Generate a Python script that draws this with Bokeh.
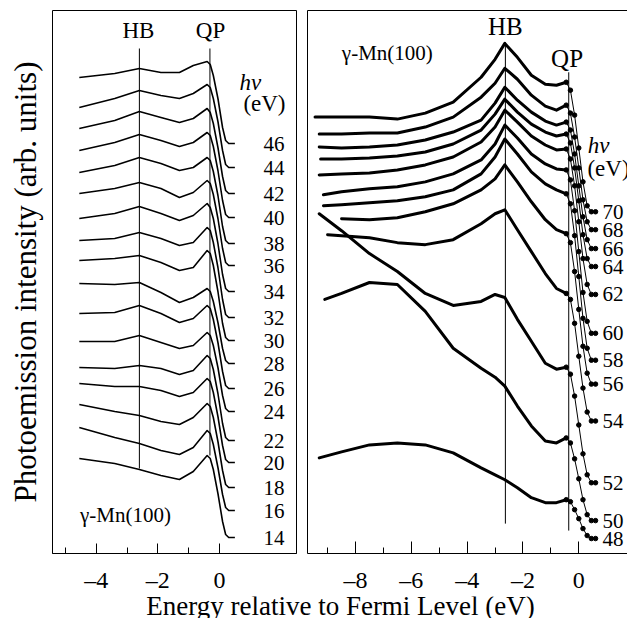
from bokeh.plotting import figure
from bokeh.models import Range1d, FixedTicker, LinearAxis, Label
from bokeh.layouts import column, row
from bokeh.embed import file_html
from bokeh.resources import INLINE
from bokeh.core.properties import value

FONT = "Liberation Serif"

# ---------------- left panel data (hv = 14..46 eV) ----------------
LEFT_HV = [46, 44, 42, 40, 38, 36, 34, 32, 30, 28, 26, 24, 22, 20, 18, 16, 14]
LEFT_E = [-4.55, -3.4, -2.6, -1.9, -1.3, -0.85, -0.4, -0.3, -0.2, -0.05, 0.1, 0.2, 0.3, 0.5]
LEFT_I = [
    [47.6, 48.0, 48.5, 48.1, 48.1, 48.8, 49.2, 48.9, 47.8, 45.5, 42.6, 41.3, 41.0, 41.0],
    [44.6, 45.5, 46.3, 45.8, 45.5, 46.0, 46.9, 46.6, 45.5, 43.2, 40.3, 38.9, 38.6, 38.6],
    [42.5, 43.3, 44.2, 43.6, 43.1, 43.5, 44.5, 44.1, 43.0, 40.6, 37.7, 36.3, 36.0, 36.0],
    [40.3, 41.1, 41.9, 41.3, 40.7, 41.1, 42.1, 41.8, 40.7, 38.3, 35.3, 33.9, 33.6, 33.6],
    [38.1, 38.8, 39.6, 39.0, 38.3, 38.6, 39.6, 39.3, 38.2, 35.8, 32.7, 31.3, 31.0, 31.0],
    [36.0, 36.5, 37.1, 36.5, 35.6, 36.1, 37.3, 37.0, 35.9, 33.5, 30.5, 29.1, 28.8, 28.8],
    [33.5, 34.0, 34.7, 34.0, 33.3, 33.8, 35.0, 34.6, 33.5, 31.0, 27.9, 26.5, 26.2, 26.2],
    [31.3, 31.5, 32.1, 31.5, 30.8, 31.1, 32.6, 32.3, 31.1, 28.6, 25.4, 23.9, 23.6, 23.6],
    [29.3, 29.5, 29.8, 29.1, 28.3, 28.6, 30.3, 30.0, 28.8, 26.2, 23.0, 21.6, 21.3, 21.3],
    [27.0, 26.9, 27.1, 26.1, 25.1, 25.6, 26.5, 26.2, 25.2, 23.1, 20.5, 19.3, 19.0, 19.0],
    [24.0, 24.1, 24.8, 24.0, 23.1, 23.5, 24.8, 24.5, 23.4, 21.1, 18.2, 16.8, 16.5, 16.5],
    [21.2, 21.2, 21.8, 21.1, 20.5, 20.8, 22.1, 21.8, 20.8, 18.6, 15.8, 14.5, 14.2, 14.2],
    [18.6, 18.5, 18.8, 18.5, 17.9, 18.3, 19.8, 19.5, 18.4, 16.0, 13.0, 11.6, 11.3, 11.3],
    [17.0, 16.7, 16.7, 16.3, 15.7, 16.1, 17.5, 17.2, 16.1, 13.7, 10.8, 9.4, 9.1, 9.1],
    [14.9, 14.2, 13.8, 13.2, 12.9, 13.6, 15.0, 14.7, 13.6, 11.2, 8.3, 6.9, 6.6, 6.6],
    [12.6, 11.6, 11.0, 10.3, 9.9, 10.6, 12.3, 12.0, 10.9, 8.6, 5.9, 4.6, 4.3, 4.3],
    [9.5, 9.0, 8.4, 7.8, 7.4, 8.2, 9.8, 9.5, 8.4, 6.0, 3.2, 1.9, 1.6, 1.6],
]
LEFT_LABEL_I = [41.0, 38.6, 36.0, 33.6, 31.0, 28.8, 26.2, 23.6, 21.3, 19.0, 16.5, 14.2, 11.3, 9.1, 6.6, 4.3, 1.6]
LEFT_MARK_E = [-2.6, -0.31]
LEFT_MARK_TOP = [50.5, 50.5]
LEFT_MARK_BOTTOM = [8.5, 9.8]

# ---------------- right panel data (hv = 48..70 eV) ----------------
RIGHT_HV = [70, 68, 66, 64, 62, 60, 58, 56, 54, 52, 50, 48]
RIGHT_START_E = [-9.45, -9.3, -9.3, -9.25, -9.3, -9.15, -9.15, -8.5, -9.0, -9.3, -9.1, -9.3]
RIGHT_START_I = [43.8, 42.1, 40.8, 39.6, 38.0, 36.0, 34.9, 33.6, 32.0, 34.1, 25.5, 9.6]
RIGHT_BODY_E = [-8.5, -7.5, -6.5, -5.5, -4.5, -3.5, -3.0, -2.65, -2.2, -1.7, -1.2, -0.8, -0.45]
RIGHT_BODY_I = [
    [43.8, 43.8, 43.6, 44.2, 45.3, 47.8, 49.6, 51.2, 49.8, 48.0, 47.1, 47.0, 47.3],
    [42.1, 42.2, 42.2, 42.8, 43.8, 45.8, 47.2, 48.7, 47.6, 46.0, 44.9, 44.5, 45.0],
    [40.7, 40.8, 41.0, 41.5, 42.3, 43.5, 45.2, 46.8, 45.5, 44.3, 43.4, 43.0, 43.3],
    [39.6, 39.7, 39.9, 40.3, 41.1, 42.5, 44.1, 45.6, 44.3, 43.1, 42.3, 41.9, 42.1],
    [38.1, 38.2, 38.5, 39.0, 39.8, 41.3, 42.8, 44.5, 43.3, 41.9, 41.0, 40.5, 40.6],
    [36.3, 36.6, 36.8, 37.3, 38.1, 39.5, 41.1, 43.0, 41.7, 40.1, 39.1, 38.6, 38.5],
    [35.0, 35.2, 35.4, 35.8, 36.5, 38.1, 39.8, 41.6, 40.1, 38.3, 37.1, 36.5, 36.1],
    [33.6, 33.5, 33.7, 34.3, 35.1, 36.5, 37.6, 39.0, 37.3, 35.3, 33.5, 32.5, 32.1],
    [31.9, 31.7, 31.2, 31.0, 31.5, 33.1, 34.1, 34.5, 32.5, 30.3, 28.1, 26.6, 26.1],
    [32.4, 30.1, 28.3, 26.1, 24.9, 25.3, 26.0, 25.7, 23.5, 21.3, 19.1, 18.5, 18.7],
    [26.1, 27.2, 27.0, 24.3, 20.6, 18.6, 17.7, 16.8, 14.8, 12.8, 11.3, 11.1, 11.6],
    [10.2, 10.9, 11.1, 10.9, 10.1, 8.6, 7.9, 7.4, 6.6, 5.6, 5.1, 5.1, 5.4],
]
RIGHT_EDGE_E = [-0.3, -0.15, 0.0, 0.15, 0.3, 0.45, 0.6]
RIGHT_EDGE_I = [
    [46.5, 44.0, 40.7, 37.3, 34.9, 34.3, 34.3],
    [44.2, 41.8, 38.7, 35.5, 33.3, 32.5, 32.5],
    [42.5, 40.1, 36.9, 33.8, 31.5, 30.6, 30.6],
    [41.2, 38.7, 35.4, 32.0, 29.6, 28.8, 28.8],
    [39.6, 36.9, 33.3, 29.6, 27.0, 26.0, 26.0],
    [37.5, 34.4, 30.3, 26.2, 23.3, 22.1, 22.1],
    [35.1, 31.9, 27.8, 23.6, 20.6, 19.4, 19.4],
    [31.2, 28.3, 24.5, 20.8, 18.1, 17.0, 17.0],
    [25.5, 23.1, 19.8, 16.6, 14.2, 13.3, 13.3],
    [18.0, 15.8, 12.9, 10.0, 7.9, 7.1, 7.1],
    [11.1, 9.5, 7.5, 5.4, 3.9, 3.3, 3.3],
    [5.2, 4.4, 3.5, 2.5, 1.8, 1.5, 1.5],
]
RIGHT_LABEL_I = [34.3, 32.5, 30.6, 28.8, 26.0, 22.1, 19.4, 17.0, 13.3, 7.1, 3.3, 1.5]
RIGHT_MARK_E = [-2.63, -0.36]
RIGHT_MARK_TOP = [51.3, 48.3]
RIGHT_MARK_BOTTOM = [3.0, 2.3]

LEFT_TICKS = [-4, -2, 0]
LEFT_MINOR = [-5, -3, -1]
RIGHT_TICKS = [-8, -6, -4, -2, 0]
RIGHT_MINOR = [-9, -7, -5, -3, -1]


def dash_labels(ticks):
    return {t: ("\u2013%d" % abs(t) if t < 0 else "%d" % t) for t in ticks}


def style_xaxis(ax, ticks, minor, major_len):
    ax.ticker = FixedTicker(ticks=ticks, minor_ticks=minor)
    ax.major_label_overrides = dash_labels(ticks)
    ax.major_label_text_font = FONT
    ax.major_label_text_font_size = "24px"
    ax.major_label_text_color = "black"
    ax.major_tick_in = major_len
    ax.major_tick_out = 0
    ax.minor_tick_in = 6
    ax.minor_tick_out = 0
    ax.major_label_standoff = 13
    ax.axis_line_color = "black"
    ax.major_tick_line_color = "black"
    ax.minor_tick_line_color = "black"


def bare_axis():
    ax = LinearAxis(ticker=FixedTicker(ticks=[]))
    ax.major_tick_out = 0
    ax.major_tick_in = 0
    ax.minor_tick_out = 0
    ax.minor_tick_in = 0
    ax.major_label_standoff = 0
    ax.axis_line_color = "black"
    return ax


def txt(p, x, y, s, size, align="center", style="normal"):
    p.text(x=x, y=y, text=s, text_font=value(FONT), text_font_size=value(size),
           text_align=align, text_baseline="middle", text_color="black",
           text_font_style=style)


# ---------------- left figure ----------------
left = figure(width=299, height=596, x_range=Range1d(-5.42, 2.50), y_range=Range1d(0, 54.3),
              output_backend="svg", toolbar_location=None,
              min_border_left=52, min_border_right=3, min_border_top=10, min_border_bottom=43)
left.grid.visible = False
left.outline_line_color = "black"
left.outline_line_alpha = 1.0
left.outline_line_width = 1
style_xaxis(left.xaxis[0], LEFT_TICKS, LEFT_MINOR, 10)
ya = left.yaxis[0]
ya.ticker = FixedTicker(ticks=[])
ya.major_tick_out = 0
ya.major_tick_in = 0
ya.minor_tick_out = 0
ya.minor_tick_in = 0
ya.major_label_standoff = 0
ya.axis_line_color = None
ya.axis_label = "Photoemission intensity (arb. units)"
ya.axis_label_text_font = FONT
ya.axis_label_text_font_size = "31px"
ya.axis_label_text_font_style = "normal"
ya.axis_label_text_color = "black"
ya.axis_label_standoff = 10

left.multi_line(xs=[LEFT_E] * len(LEFT_I), ys=LEFT_I, line_color="black", line_width=1.6,
                line_join="round")
left.segment(x0=LEFT_MARK_E, y0=LEFT_MARK_BOTTOM, x1=LEFT_MARK_E, y1=LEFT_MARK_TOP,
             line_color="black", line_width=1)
txt(left, [-2.63, -0.29], [52.35, 52.35], ["HB", "QP"], "23px")
txt(left, [1.0], [47.15], ["h\u03bd"], "23px", style="italic")
txt(left, [1.46], [45.05], ["(eV)"], "23px")
txt(left, [1.43] * len(LEFT_HV), LEFT_LABEL_I, [str(v) for v in LEFT_HV], "21px", align="left")
txt(left, [-3.05], [3.9], ["\u03b3-Mn(100)"], "21px")

# ---------------- right figure ----------------
right = figure(width=328, height=596, x_range=Range1d(-9.72, 1.745), y_range=Range1d(0, 54.5),
               output_backend="svg", toolbar_location=None, y_axis_location=None,
               min_border_left=8, min_border_right=0, min_border_top=8, min_border_bottom=43)
right.grid.visible = False
right.outline_line_color = None
style_xaxis(right.xaxis[0], RIGHT_TICKS, RIGHT_MINOR, 12)
right.add_layout(bare_axis(), "left")
right.add_layout(bare_axis(), "above")

body_xs = [[s] + RIGHT_BODY_E for s in RIGHT_START_E]
body_ys = [[s] + b for s, b in zip(RIGHT_START_I, RIGHT_BODY_I)]
edge_xs = [[RIGHT_BODY_E[-1]] + RIGHT_EDGE_E for _ in RIGHT_EDGE_I]
edge_ys = [[b[-1]] + e for b, e in zip(RIGHT_BODY_I, RIGHT_EDGE_I)]
right.multi_line(xs=body_xs, ys=body_ys, line_color="black", line_width=3.0, line_join="round",
                 line_cap="round")
right.multi_line(xs=edge_xs, ys=edge_ys, line_color="black", line_width=1)
dot_x = [x for xs in edge_xs for x in xs]
dot_y = [y for ys in edge_ys for y in ys]
right.scatter(x=dot_x, y=dot_y, marker="circle", size=4.5, color="black")
right.segment(x0=RIGHT_MARK_E, y0=RIGHT_MARK_BOTTOM, x1=RIGHT_MARK_E, y1=RIGHT_MARK_TOP,
              line_color="black", line_width=1)
txt(right, [-2.63], [52.9], ["HB"], "25px")
txt(right, [-0.42], [49.7], ["QP"], "25px")
txt(right, [-6.86], [50.2], ["\u03b3-Mn(100)"], "21px")
txt(right, [0.71], [40.95], ["h\u03bd"], "23px", style="italic")
txt(right, [0.31], [38.6], ["(eV)"], "23px", align="left")
txt(right, [0.85] * len(RIGHT_HV), RIGHT_LABEL_I, [str(v) for v in RIGHT_HV], "21px", align="left")

# ---------------- shared x label ----------------
xlab = figure(width=627, height=22, x_range=Range1d(0, 1), y_range=Range1d(0, 1),
              output_backend="svg", toolbar_location=None,
              x_axis_location=None, y_axis_location=None,
              min_border_left=0, min_border_right=0, min_border_top=0, min_border_bottom=0)
xlab.outline_line_color = None
xlab.grid.visible = False
xlab.add_layout(Label(x=340, y=13, x_units="screen", y_units="screen",
                      text="Energy relative to Fermi Level (eV)", text_font=FONT,
                      text_font_size="27px", text_align="center", text_baseline="alphabetic",
                      text_color="black"))

layout = column(row(left, right), xlab)
open("out.html", "w").write(file_html(layout, INLINE))
